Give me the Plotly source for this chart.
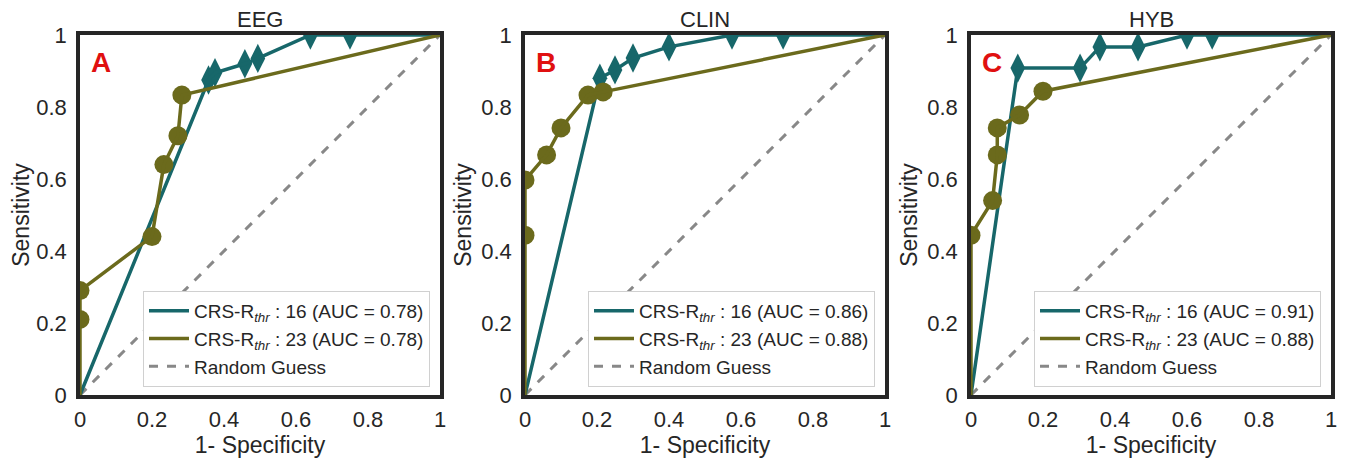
import plotly.graph_objects as go

# the page body adds an 8 px margin, so the figure is 8 px smaller than the window
OFF = 8
W, H = 1348 - OFF, 458 - OFF

panels = ["EEG", "CLIN", "HYB"]
letters = ["A", "B", "C"]

# teal (CRS-R thr 16) curves: false positive rate, true positive rate
fpr16 = [
    [0, 0.357, 0.375, 0.458, 0.494, 0.64, 0.75, 1],
    [0, 0.208, 0.25, 0.30, 0.40, 0.575, 0.717, 1],
    [0, 0.13, 0.303, 0.358, 0.464, 0.60, 0.67, 1],
]
tpr16 = [
    [0, 0.875, 0.895, 0.92, 0.935, 1, 1, 1],
    [0, 0.88, 0.903, 0.936, 0.967, 1, 1, 1],
    [0, 0.908, 0.908, 0.967, 0.967, 1, 1, 1],
]
# olive (CRS-R thr 23) curves
fpr23 = [
    [0, 0, 0, 0.20, 0.233, 0.272, 0.283, 1],
    [0, 0, 0, 0.06, 0.10, 0.175, 0.217, 1],
    [0, 0, 0.06, 0.073, 0.073, 0.135, 0.20, 1],
]
tpr23 = [
    [0, 0.21, 0.29, 0.44, 0.64, 0.72, 0.833, 1],
    [0, 0.444, 0.597, 0.667, 0.742, 0.833, 0.842, 1],
    [0, 0.444, 0.54, 0.667, 0.742, 0.778, 0.844, 1],
]
auc16 = ["0.78", "0.86", "0.91"]
auc23 = ["0.78", "0.88", "0.88"]
ticks = [0, 0.2, 0.4, 0.6, 0.8, 1]
ticktext = ["0", "0.2", "0.4", "0.6", "0.8", "1"]

TEAL = "#17676a"
OLIVE = "#6b6a1c"
GREY = "#888888"
DARK = "#262626"
FONT = "Liberation Sans, Arial, sans-serif"

# pixel geometry of plot areas (screen coordinates, shifted by body margin)
xpix = [(80 - OFF, 440 - OFF), (525 - OFF, 885 - OFF), (971 - OFF, 1331 - OFF)]
ytop, ybot = 35 - OFF, 395 - OFF

fig = go.Figure()
for i in range(3):
    xa = "x" if i == 0 else f"x{i+1}"
    ya = "y" if i == 0 else f"y{i+1}"
    lg = "legend" if i == 0 else f"legend{i+1}"
    fig.add_trace(go.Scatter(x=[0, 1], y=[0, 1], mode="lines",
                             line=dict(color=GREY, width=3, dash="dash"),
                             name="Random Guess", xaxis=xa, yaxis=ya,
                             legend=lg, legendrank=3))
    fig.add_trace(go.Scatter(x=fpr16[i][1:-1], y=tpr16[i][1:-1], mode="markers",
                             marker=dict(symbol="diamond-tall", size=21, color=TEAL),
                             showlegend=False, xaxis=xa, yaxis=ya, cliponaxis=True))
    fig.add_trace(go.Scatter(x=fpr16[i], y=tpr16[i], mode="lines",
                             line=dict(color=TEAL, width=3.5),
                             name=f"CRS-R<sub><i>thr</i></sub> : 16 (AUC = {auc16[i]})",
                             xaxis=xa, yaxis=ya, legend=lg, legendrank=1))
    fig.add_trace(go.Scatter(x=fpr23[i][1:-1], y=tpr23[i][1:-1], mode="markers",
                             marker=dict(symbol="circle", size=19, color=OLIVE),
                             showlegend=False, xaxis=xa, yaxis=ya, cliponaxis=True))
    fig.add_trace(go.Scatter(x=fpr23[i], y=tpr23[i], mode="lines",
                             line=dict(color=OLIVE, width=3.5),
                             name=f"CRS-R<sub><i>thr</i></sub> : 23 (AUC = {auc23[i]})",
                             xaxis=xa, yaxis=ya, legend=lg, legendrank=2))

layout = dict(
    width=W, height=H,
    template="none",
    margin=dict(l=0, r=0, t=0, b=0),
    paper_bgcolor="white", plot_bgcolor="white",
    font=dict(family=FONT, color=DARK),
    annotations=[],
)
for i in range(3):
    x0, x1 = xpix[i]
    xk = "xaxis" if i == 0 else f"xaxis{i+1}"
    yk = "yaxis" if i == 0 else f"yaxis{i+1}"
    lk = "legend" if i == 0 else f"legend{i+1}"
    xa = "x" if i == 0 else f"x{i+1}"
    ya = "y" if i == 0 else f"y{i+1}"
    layout[xk] = dict(domain=[x0 / W, x1 / W], range=[0, 1], anchor=ya, automargin=False,
                      tickvals=ticks, ticktext=ticktext, showgrid=False, zeroline=False,
                      showline=True, mirror=True, linecolor=DARK, linewidth=3.5,
                      ticks="outside", ticklen=2, tickcolor="rgba(0,0,0,0)",
                      tickfont=dict(size=22, color=DARK),
                      title=dict(text="1- Specificity", font=dict(size=23), standoff=2))
    layout[yk] = dict(domain=[(H - ybot) / H, (H - ytop) / H], range=[0, 1], anchor=xa,
                      automargin=False,
                      tickvals=ticks, ticktext=ticktext, showgrid=False, zeroline=False,
                      showline=True, mirror=True, linecolor=DARK, linewidth=3.5,
                      ticks="outside", ticklen=5, tickcolor="rgba(0,0,0,0)",
                      tickfont=dict(size=22, color=DARK),
                      title=dict(text="Sensitivity", font=dict(size=23), standoff=4))
    layout[lk] = dict(x=(x1 - 10) / W, y=(H - ybot + 8) / H, xanchor="right", yanchor="bottom",
                      xref="paper", yref="paper",
                      bgcolor="white", bordercolor="#d0d0d0", borderwidth=1,
                      font=dict(size=19, color=DARK), tracegroupgap=0,
                      itemwidth=40)
    layout["annotations"].append(dict(text=panels[i], x=(x0 + x1) / 2 / W, y=(H - ytop + 1) / H,
                                      xref="paper", yref="paper", xanchor="center", yanchor="bottom",
                                      showarrow=False, font=dict(size=22, color=DARK)))
    layout["annotations"].append(dict(text=f"<b>{letters[i]}</b>", x=0.058, y=0.925,
                                      xref=f"{xa} domain", yref=f"{ya} domain",
                                      xanchor="center", yanchor="middle",
                                      showarrow=False, font=dict(size=28, color="#e01010")))

fig.update_layout(**layout)
fig.write_html("out.html")
